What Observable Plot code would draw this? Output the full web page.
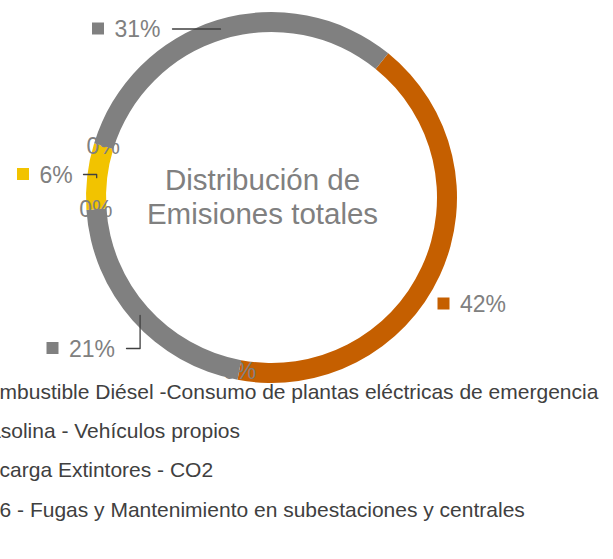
<!DOCTYPE html>
<html>
<head>
<meta charset="utf-8">
<script src="https://cdn.jsdelivr.net/npm/d3@7"></script>
<script src="https://cdn.jsdelivr.net/npm/@observablehq/plot@0.6"></script>
<style>
  html, body { margin: 0; padding: 0; background: #ffffff; overflow: hidden; }
  #chart svg { display: block; }
</style>
</head>
<body>
<div id="chart"></div>
<script>
// ---------- data ----------
// slices clockwise from the first slice angle (percent of total)
const sliceValues = [42.1, 0, 21.0, 0, 5.8, 0, 31.1];
const firstSliceAngleDeg = 39;
const chartTitle = "Distribución de\nEmisiones totales";
const legendLabels = [
  "Combustible Diésel -Consumo de plantas eléctricas de emergencia",
  "Gasolina - Vehículos propios",
  "Recarga Extintores - CO2",
  "SF6 - Fugas y Mantenimiento en subestaciones y centrales"
];

// ---------- styles / layout ----------
const sliceColors = ["#C55F00", "#A5A5A5", "#808080", "#5B9BD5", "#F2C300", "#4472C4", "#808080"];
const W = 613, H = 559, CX = 271.5, CY = 197.5;     // plot frame, donut centre
const R_OUT = 185.5, R_IN = 165.5, R_MID = 176.5;
// positions of the value-label boxes (relative to the donut centre) and leader start
const labelLayout = [
  {slice: 0, mx: 171.5,  my: 105.5,  leaderX: null},
  {slice: 2, mx: -219.5, my: 150,    leaderX: -145.5},
  {slice: 4, mx: -249,   my: -24,    leaderX: -188.5},
  {slice: 6, mx: -174,   my: -169.5, leaderX: -99.5}
];
const legendX = -299.3, legendY0 = 194.1, legendStep = 39.25, legendFont = 21;

// ---------- derived ----------
const total = d3.sum(sliceValues);
const a0 = firstSliceAngleDeg * Math.PI / 180;
const arcs = d3.pie().sort(null).startAngle(a0).endAngle(a0 + 2 * Math.PI)(sliceValues);
const pct = v => Math.round(v / total * 100) + "%";
const polar = (ang, r) => ({x: r * Math.sin(ang), y: -r * Math.cos(ang)});

const valueLabels = labelLayout.map(l => {
  const a = arcs[l.slice];
  const mid = (a.startAngle + a.endAngle) / 2;
  return {...l, label: pct(a.value), color: sliceColors[l.slice], ring: polar(mid, R_MID)};
});
const leaderPts = valueLabels.filter(d => d.leaderX != null).flatMap(d => {
  const yl = d.my + 0.5;
  return [
    {id: d.slice, x: d.leaderX, y: yl},
    {id: d.slice, x: d.ring.x, y: yl},
    {id: d.slice, x: d.ring.x, y: d.ring.y}
  ];
});
const zeroLabels = arcs.filter(a => a.value === 0).map(a => ({...polar(a.startAngle, R_MID), label: pct(a.value)}));

function ringMark(index, scales) {
  const x0 = scales.x(0), y0 = scales.y(0);
  const k = scales.x(1) - scales.x(0);
  const gen = d3.arc().innerRadius(R_IN * k).outerRadius(R_OUT * k);
  const g = d3.create("svg:g").attr("transform", `translate(${x0},${y0})`);
  g.selectAll("path")
    .data(arcs.filter(a => a.value > 0))
    .join("path")
    .attr("d", gen)
    .attr("fill", a => sliceColors[a.index]);
  return g.node();
}

const chart = Plot.plot({
  width: W,
  height: H,
  margin: 0,
  x: {domain: [-CX, W - CX], range: [0, W], axis: null},
  y: {domain: [-CY, H - CY], range: [0, H], axis: null},
  style: {background: "#ffffff", fontFamily: "'Liberation Sans', Arial, sans-serif"},
  marks: [
    ringMark,
    Plot.line(leaderPts, {x: "x", y: "y", z: "id", stroke: "#404040", strokeWidth: 1.3, curve: "linear"}),
    Plot.dot(valueLabels, {x: "mx", y: "my", symbol: "square", r: 6.77, fill: "color", stroke: null}),
    Plot.text(valueLabels, {x: d => d.mx + 16.5, y: d => d.my + 1.5, text: "label", textAnchor: "start",
      fontSize: 23, fill: "#808080"}),
    Plot.text(zeroLabels, {x: "x", y: "y", text: "label", fontSize: 23, fill: "#808080"}),
    Plot.text([chartTitle], {x: -9.5, y: -2, text: d => d, fontSize: 29.5, lineHeight: 1.17, fill: "#808080"}),
    Plot.text(legendLabels, {x: legendX, y: (d, i) => legendY0 + i * legendStep, text: d => d,
      textAnchor: "start", fontSize: legendFont, fill: "#404040"})
  ]
});
document.getElementById("chart").appendChild(chart);
</script>
</body>
</html>
